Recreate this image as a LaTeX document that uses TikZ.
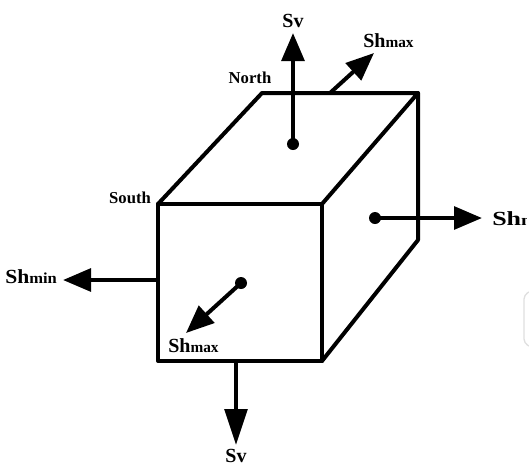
\documentclass[tikz,border=0pt]{standalone}
\usepackage{fontspec}
\setmainfont{Liberation Serif}
\usetikzlibrary{arrows.meta}
% stress label: large "Sh" followed by a smaller suffix on the same baseline
\newcommand{\stresslbl}[1]{{\fontsize{15}{15}\selectfont Sh}{\fontsize{11.5}{11.5}\selectfont #1}}
\tikzset{
  edge/.style={line width=3pt, line cap=round, line join=round},
  force/.style={line width=3pt, -{Triangle[length=21pt,width=17pt]}},
  longforce/.style={line width=3pt, -{Triangle[length=27pt,width=17pt]}},
  dotpt/.style={circle, fill=black, inner sep=0pt, minimum size=9pt},
  lbl/.style={inner sep=0pt, font=\bfseries\fontsize{15}{15}\selectfont},
  side/.style={inner sep=0pt, font=\bfseries\fontsize{12.5}{12.5}\selectfont}
}
\begin{document}
\begin{tikzpicture}[x=0.75pt,y=-0.75pt]
\useasboundingbox (0,0) rectangle (529,469);
\clip (0,0) rectangle (529,469);

% cube corners
\coordinate (ftl) at (158,204);
\coordinate (ftr) at (322,204);
\coordinate (fbr) at (322,361);
\coordinate (fbl) at (158,361);
\coordinate (btl) at (262,93);
\coordinate (btr) at (418,93);
\coordinate (bbr) at (418,240);

% cube edges
\draw[edge] (ftl) -- (ftr) -- (fbr) -- (fbl) -- cycle;
\draw[edge] (ftl) -- (btl) -- (btr) -- (ftr);
\draw[edge] (btr) -- (bbr) -- (fbr);

% application points
\node[dotpt] (dtop) at (293,144) {};
\node[dotpt] (dfront) at (241,283) {};
\node[dotpt] (dright) at (375,218) {};
\coordinate (pleft) at (158,280);
\coordinate (pbottom) at (236,361);
\coordinate (ptopedge) at (330,93);

% arrow tips
\coordinate (tsvtop) at (293,33);
\coordinate (tshtop) at (374,53);
\coordinate (tfront) at (186,333);
\coordinate (tleft) at (63,280);
\coordinate (tright) at (482,218);
\coordinate (tsvbot) at (236,445);

% stress arrows
\draw[force] (dtop.center) -- (tsvtop);
\draw[force] (ptopedge) -- (tshtop);
\draw[force] (dfront.center) -- (tfront);
\draw[force] (pleft) -- (tleft);
\draw[force] (dright.center) -- (tright);
\draw[longforce] (pbottom) -- (tsvbot);

% labels
\node[lbl, anchor=base] (svtop) at (293,27) {Sv};
\node[lbl, anchor=base west] (shmaxtop) at (363,47) {\stresslbl{max}};
\node[lbl, anchor=base west] (shmaxfront) at (168,352) {\stresslbl{max}};
\node[lbl, anchor=base west] (shminleft) at (5,283) {\scalebox{1.08}[1]{\stresslbl{min}}};
\begin{scope}
  % the right-hand label runs off the border
  \clip (0,0) rectangle (526,469);
  \node[lbl, anchor=base west] (shright) at (492,225) {\scalebox{1.3}[1]{\stresslbl{min}}};
\end{scope}
\node[lbl, anchor=base] (svbot) at (236,462) {Sv};
\node[side, anchor=base] (north) at (250,83) {North};
\node[side, anchor=base] (south) at (130,203) {South};

% faint mark at the right border
\draw[gray!25, line width=1pt, rounded corners=3pt] (529,292) -- (524,295) -- (524,343) -- (529,346);
\end{tikzpicture}
\end{document}
